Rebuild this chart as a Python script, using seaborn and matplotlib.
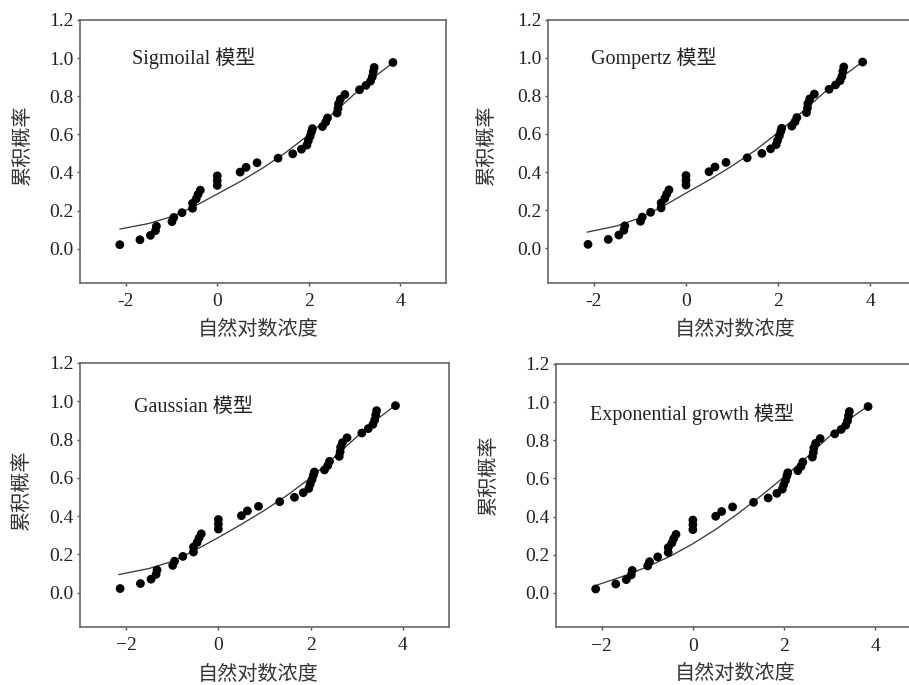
import matplotlib
matplotlib.use("Agg")
import matplotlib.pyplot as plt
import seaborn as sns
import numpy as np
import pandas as pd
from matplotlib.ticker import FixedLocator, FixedFormatter

# ---- data ----
log_conc = [-2.13, -1.69, -1.46, -1.35, -1.33, -0.99, -0.95, -0.77, -0.54, -0.54,
            -0.46, -0.42, -0.37, 0.0, 0.0, 0.0, 0.50, 0.63, 0.87, 1.33,
            1.65, 1.84, 1.96, 1.99, 2.03, 2.06, 2.08, 2.30, 2.37, 2.41,
            2.62, 2.64, 2.65, 2.69, 2.79, 3.11, 3.25, 3.35, 3.39, 3.41,
            3.43, 3.84]
cum_prob = [0.021, 0.047, 0.070, 0.095, 0.118, 0.142, 0.164, 0.189, 0.212, 0.238,
            0.262, 0.285, 0.307, 0.332, 0.358, 0.382, 0.402, 0.427, 0.451, 0.475,
            0.498, 0.522, 0.544, 0.566, 0.590, 0.613, 0.630, 0.641, 0.664, 0.686,
            0.712, 0.736, 0.760, 0.784, 0.809, 0.834, 0.857, 0.879, 0.902, 0.928,
            0.951, 0.977]

sig_x = [-2.13, -1.5, -1.0, -0.5, 0.0, 0.5, 1.0, 1.5, 2.0, 2.5, 3.0, 3.5, 3.84]
sig_y = [0.103, 0.132, 0.168, 0.222, 0.287, 0.352, 0.424, 0.505, 0.598, 0.703, 0.812, 0.913, 0.976]

gom_x = [-2.15, -1.5, -1.0, -0.5, 0.0, 0.5, 1.0, 1.5, 2.0, 2.5, 3.0, 3.5, 3.82]
gom_y = [0.085, 0.118, 0.160, 0.220, 0.290, 0.358, 0.432, 0.513, 0.607, 0.710, 0.816, 0.918, 0.975]

gau_x = [-2.16, -1.5, -1.0, -0.5, 0.0, 0.5, 1.0, 1.5, 2.0, 2.5, 3.0, 3.5, 3.82]
gau_y = [0.094, 0.126, 0.163, 0.222, 0.288, 0.357, 0.430, 0.510, 0.600, 0.705, 0.814, 0.917, 0.976]

exp_x = [-2.12, -1.5, -1.0, -0.5, 0.0, 0.5, 1.0, 1.5, 2.0, 2.5, 3.0, 3.5, 3.83]
exp_y = [0.040, 0.090, 0.137, 0.192, 0.258, 0.333, 0.418, 0.510, 0.608, 0.712, 0.822, 0.923, 0.978]

model_names = ["Sigmoilal 模型", "Gompertz 模型", "Gaussian 模型", "Exponential growth 模型"]
x_ticks = [-2, 0, 2, 4]
x_labels_top = ["-2", "0", "2", "4"]
x_labels_bottom = ["\u22122", "0", "2", "4"]
y_ticks = [0.0, 0.2, 0.4, 0.6, 0.8, 1.0, 1.2]
y_labels = ["0.0", "0.2", "0.4", "0.6", "0.8", "1.0", "1.2"]
xlabel = "自然对数浓度"
ylabel = "累积概率"

# ---- style ----
sns.set_theme(style="ticks")
plt.rcParams["font.family"] = ["Liberation Serif", "Noto Sans CJK SC", "DejaVu Sans"]
plt.rcParams["axes.unicode_minus"] = True

W, H = 909, 685
fig = plt.figure(figsize=(W / 100, H / 100), dpi=100)

def box(l, r, t, b):
    return [l / W, 1 - b / H, (r - l) / W, (b - t) / H]

panels = [
    dict(rect=box(80, 446, 20, 283), cx=sig_x, cy=sig_y, name=model_names[0],
         tx=-1.87, ty=1.0, xl=x_labels_top, ylab=(-0.155, 0.525), xlab=(0.486, -0.179)),
    dict(rect=box(548, 916, 19.5, 282.7), cx=gom_x, cy=gom_y, name=model_names[1],
         tx=-2.07, ty=1.0, xl=x_labels_top, ylab=(-0.166, 0.525), xlab=(0.508, -0.181)),
    dict(rect=box(80, 449, 363, 627), cx=gau_x, cy=gau_y, name=model_names[2],
         tx=-1.82, ty=0.965, xl=x_labels_bottom, ylab=(-0.155, 0.519), xlab=(0.482, -0.182)),
    dict(rect=box(556, 921, 364, 627.3), cx=exp_x, cy=exp_y, name=model_names[3],
         tx=-2.26, ty=0.937, xl=x_labels_bottom, ylab=(-0.184, 0.579), xlab=(0.49, -0.18)),
]

pts = pd.DataFrame({"x": log_conc, "y": cum_prob})

for p in panels:
    ax = fig.add_axes(p["rect"])
    ax.set_facecolor("white")
    curve = pd.DataFrame({"x": p["cx"], "y": p["cy"]})
    sns.lineplot(data=curve, x="x", y="y", ax=ax, color="#333333", lw=0.9,
                 sort=False, estimator=None)
    sns.scatterplot(data=pts, x="x", y="y", ax=ax, color="black", s=40,
                    edgecolor="none", zorder=3)
    ax.set_xlim(-3, 5)
    ax.set_ylim(-0.18, 1.2)
    ax.xaxis.set_major_locator(FixedLocator(x_ticks))
    ax.xaxis.set_major_formatter(FixedFormatter(p["xl"]))
    ax.yaxis.set_major_locator(FixedLocator(y_ticks))
    ax.yaxis.set_major_formatter(FixedFormatter(y_labels))
    ax.tick_params(axis="both", direction="out", length=2.5, width=1.0,
                   color="#555555", labelsize=14, labelcolor="#222222")
    ax.tick_params(axis="x", pad=5)
    ax.tick_params(axis="y", pad=2.0)
    for s in ax.spines.values():
        s.set_visible(True)
        s.set_color("#666666")
        s.set_linewidth(1.2)
    ax.set_xlabel(xlabel, fontsize=14.5, color="#333333")
    ax.set_ylabel(ylabel, fontsize=14.5, color="#333333")
    ax.xaxis.label.set_va("center")
    ax.yaxis.label.set_va("center")
    ax.xaxis.set_label_coords(*p["xlab"])
    ax.yaxis.set_label_coords(*p["ylab"])
    ax.text(p["tx"], p["ty"], p["name"], fontsize=14.5, color="#222222",
            ha="left", va="center")

fig.savefig("out.png", dpi=100, facecolor="white")
